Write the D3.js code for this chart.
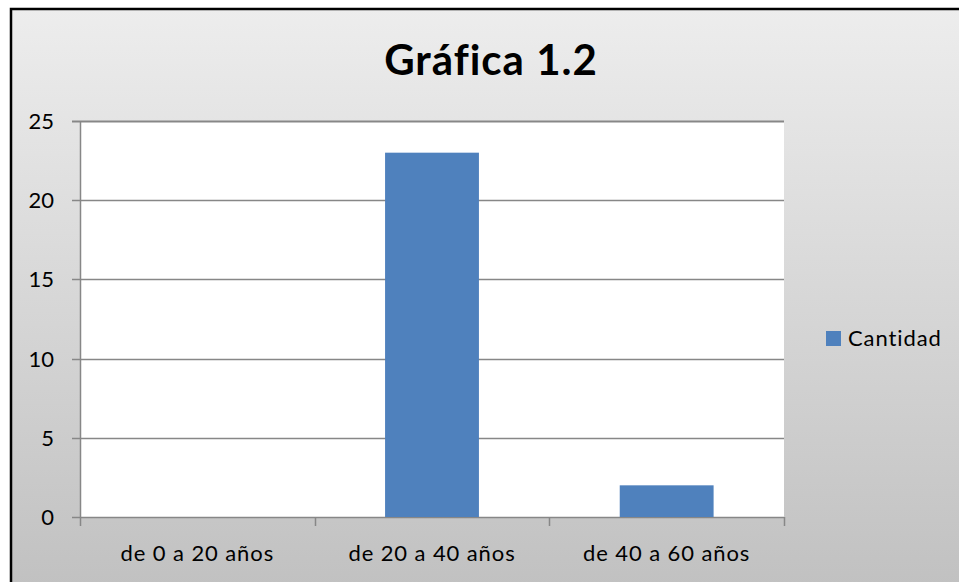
<!DOCTYPE html>
<html>
<head>
<meta charset="utf-8">
<script src="https://cdn.jsdelivr.net/npm/d3@7"></script>
<style>
  body { margin: 0; background: #fff; }
  text { font-family: Lato, "Open Sans", sans-serif; fill: #000; }
</style>
</head>
<body>
<div id="vis"></div>
<script>
// data
const categories = ["de 0 a 20 años", "de 20 a 40 años", "de 40 a 60 años"];
const cantidad = [0, 23, 2];
const yTicks = [0, 5, 10, 15, 20, 25];
const seriesName = "Cantidad";
const title = "Gráfica 1.2";

const svg = d3.select("#vis")
    .append("svg")
    .attr("width", 959)
    .attr("height", 582);

const defs = svg.append("defs");
const grad = defs.append("linearGradient")
    .attr("id", "bg")
    .attr("x1", 0).attr("y1", 0)
    .attr("x2", 0).attr("y2", 1);
grad.append("stop").attr("offset", "0%").attr("stop-color", "#ededed");
grad.append("stop").attr("offset", "100%").attr("stop-color", "#c0c0c0");

// chart area background with border
svg.append("rect")
    .attr("x", 11)
    .attr("y", 9)
    .attr("width", 960)
    .attr("height", 590)
    .attr("fill", "url(#bg)")
    .attr("stroke", "#000")
    .attr("stroke-width", 2.5);

const plot = { left: 80, right: 784, top: 121, bottom: 517 };

const x = d3.scaleBand()
    .domain(categories)
    .range([plot.left, plot.right])
    .paddingInner(0.6)
    .paddingOuter(0.3);

const xb = d3.scaleBand()
    .domain(categories)
    .range([plot.left, plot.right]);

const y = d3.scaleLinear()
    .domain([0, 25])
    .range([plot.bottom, plot.top]);

// plot area
svg.append("rect")
    .attr("x", plot.left)
    .attr("y", plot.top)
    .attr("width", plot.right - plot.left)
    .attr("height", plot.bottom - plot.top)
    .attr("fill", "#fff");

// gridlines
svg.append("g")
    .selectAll("line")
    .data(yTicks)
    .enter()
    .append("line")
    .attr("x1", plot.left - 8)
    .attr("x2", plot.right)
    .attr("y1", d => Math.round(y(d)) + 0.5)
    .attr("y2", d => Math.round(y(d)) + 0.5)
    .attr("stroke", "#878787")
    .attr("stroke-width", d => d === 25 ? 2 : 1.3);

// y axis line
svg.append("line")
    .attr("x1", plot.left + 0.5).attr("x2", plot.left + 0.5)
    .attr("y1", plot.top).attr("y2", plot.bottom)
    .attr("stroke", "#878787")
    .attr("stroke-width", 1.5);

// y labels
svg.append("g")
    .selectAll("text")
    .data(yTicks)
    .enter()
    .append("text")
    .attr("x", 54)
    .attr("y", d => y(d) + 8)
    .attr("text-anchor", "end")
    .style("font-size", "22px")
    .text(d => d);

// x tick marks at category boundaries
const bounds = categories.map(c => xb(c)).concat([plot.right]);
svg.append("g")
    .selectAll("line")
    .data(bounds)
    .enter()
    .append("line")
    .attr("x1", d => Math.round(d) + 0.5)
    .attr("x2", d => Math.round(d) + 0.5)
    .attr("y1", plot.bottom)
    .attr("y2", plot.bottom + 9)
    .attr("stroke", "#878787")
    .attr("stroke-width", 1.5);

// bars
svg.append("g")
    .selectAll("rect")
    .data(cantidad)
    .enter()
    .append("rect")
    .attr("x", (d, i) => x(categories[i]))
    .attr("y", d => y(d))
    .attr("width", x.bandwidth())
    .attr("height", d => plot.bottom - y(d))
    .attr("fill", "#4f81bd");

// x labels
svg.append("g")
    .selectAll("text")
    .data(categories)
    .enter()
    .append("text")
    .attr("x", d => xb(d) + xb.bandwidth() / 2)
    .attr("y", 561)
    .attr("text-anchor", "middle")
    .style("font-size", "22px")
    .style("letter-spacing", "0.9px")
    .text(d => d);

// title
svg.append("text")
    .attr("x", 491)
    .attr("y", 75)
    .attr("text-anchor", "middle")
    .style("font-size", "42px")
    .style("font-weight", "bold")
    .style("letter-spacing", "1px")
    .text(title);

// legend
svg.append("rect")
    .attr("x", 826)
    .attr("y", 331)
    .attr("width", 15)
    .attr("height", 15)
    .attr("fill", "#4f81bd");
svg.append("text")
    .attr("x", 848)
    .attr("y", 346)
    .style("font-size", "22px")
    .style("letter-spacing", "0.9px")
    .text(seriesName);
</script>
</body>
</html>
